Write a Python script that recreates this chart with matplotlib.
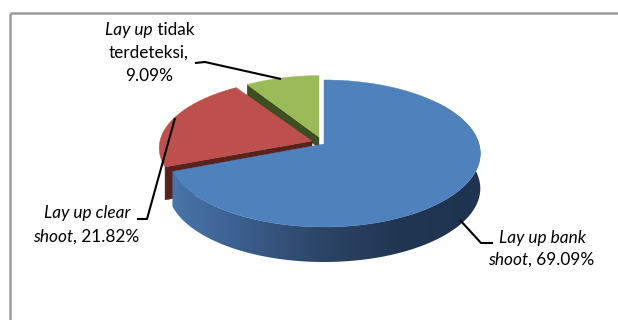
import matplotlib
matplotlib.use("Agg")
from matplotlib import pyplot as plt
from matplotlib.patches import Polygon
from matplotlib.colors import LinearSegmentedColormap
import numpy as np

labels = ["Lay up bank shoot", "Lay up clear shoot", "Lay up tidak terdeteksi"]
values = [69.09, 21.82, 9.09]

plt.rcParams['font.family'] = ['Lato', 'DejaVu Sans']

fig = plt.figure(figsize=(6.18, 3.20), dpi=100)
ax = fig.add_axes([0, 0, 1, 1])
ax.axis("off")

# frame of the chart
ax.plot([10, 10], [320, 12.5], color="#9c9c9c", lw=1.8, solid_capstyle="butt")
ax.plot([10, 618], [12.5, 12.5], color="#9c9c9c", lw=1.8, solid_capstyle="butt")

# slice angles, clockwise from 12 o'clock
edges = np.cumsum([0] + values) / 100 * 2 * np.pi


def rim(start, end, ox, oy, rx, ry, k):
    t = np.linspace(start, end, 200)
    d = 1 + k * np.cos(t)
    return ox + rx * np.sin(t) / d, oy - ry * np.cos(t) / d


def top_face(start, end, ox, oy, rx, ry, k, color, z):
    x, y = rim(start, end, ox, oy, rx, ry, k)
    pts = np.column_stack([np.r_[ox, x], np.r_[oy, y]])
    ax.add_patch(Polygon(pts, closed=True, fc=color, ec=color, lw=0.3, zorder=z))


def cut_face(angle, ox, oy, rx, ry, k, depth, color, z):
    x, y = rim(angle, angle, ox, oy, rx, ry, k)
    pts = [(ox, oy), (x[0], y[0]), (x[0], y[0] + depth), (ox, oy + depth)]
    ax.add_patch(Polygon(pts, closed=True, fc=color, ec=color, lw=0.3, zorder=z))


# green slice
green = (319, 137, 144, 67.5, 0.1)
cut_face(edges[2], *green, 11, "#3f4d22", 2)
top_face(edges[2], edges[3], *green, "#9bbb59", 3)

# red slice
red = (312, 141, 152, 68.8, 0.1)
cut_face(edges[1], *red, 33, "#58231f", 4)
top_face(edges[1], edges[2], *red, "#bd4f4c", 5)

# blue slice, side wall first with its left to right shading
blue = (324, 144, 155, 72.3, 0.129)
depth = 35
x, y = rim(edges[0] + 0.9, edges[1], *blue)
wall = Polygon(np.column_stack([np.r_[x, x[::-1]], np.r_[y, y[::-1] + depth]]),
               closed=True, fc="none", ec="none", zorder=6)
ax.add_patch(wall)
stops = [(0.0, "#4a76ab"), (0.19, "#3d6192"), (0.48, "#2c4566"), (0.74, "#203652"), (1.0, "#1d3350")]
side_cmap = LinearSegmentedColormap.from_list("side", stops)
img = ax.imshow(np.linspace(0, 1, 310).reshape(1, -1), cmap=side_cmap, extent=(172, 482, 270, 100),
                aspect="auto", zorder=6, interpolation="bilinear")
img.set_clip_path(wall)
top_face(edges[0], edges[1], *blue, "#4f81bd", 7)

ax.set_xlim(0, 618)
ax.set_ylim(320, 0)

# leader lines
leader = dict(color="black", lw=1.5, zorder=8, solid_capstyle="butt", solid_joinstyle="round")
ax.plot([195, 205, 281], [63, 62, 79], **leader)
ax.plot([137, 147, 175], [219, 219, 118], **leader)
ax.plot([460, 481, 493], [220, 243, 243], **leader)


def text_line(xc, yc, runs, size=12.4):
    # one centred line made of italic and upright pieces
    r = fig.canvas.get_renderer()
    items = [ax.text(0, yc, s, style=st, fontsize=size, color="black", va="center", ha="left", zorder=9)
             for s, st in runs]
    widths = [i.get_window_extent(r).width for i in items]
    pos = xc - sum(widths) / 2
    for i, w in zip(items, widths):
        i.set_x(pos)
        pos += w


text_line(150, 30, [("Lay up", "italic"), (" tidak", "normal")])
text_line(149, 53, [("terdeteksi,", "normal")])
text_line(149, 76, [("9.09%", "normal")])
text_line(87, 213, [("Lay up clear", "italic")])
text_line(86, 237, [("shoot", "italic"), (", 21.82%", "normal")])
text_line(542, 238, [("Lay up bank", "italic")])
text_line(541, 260, [("shoot", "italic"), (", 69.09%", "normal")])

fig.savefig("out.png", dpi=100)
